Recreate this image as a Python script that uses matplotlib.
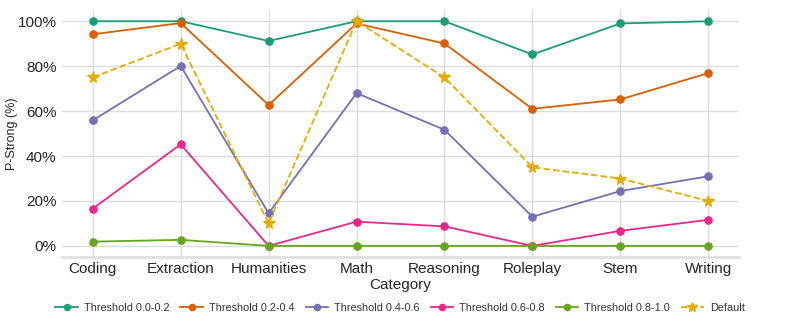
import matplotlib
matplotlib.use("Agg")
from matplotlib import pyplot as plt
from matplotlib.ticker import FuncFormatter

plt.rcParams['font.family'] = ['Liberation Sans', 'DejaVu Sans']

categories = ['Coding', 'Extraction', 'Humanities', 'Math', 'Reasoning', 'Roleplay', 'Stem', 'Writing']

t00_02 = [100, 100, 91.2, 100, 100, 85.2, 99.0, 100]
t02_04 = [94.2, 99.2, 62.7, 99.0, 90.1, 61.0, 65.2, 76.9]
t04_06 = [55.9, 80.1, 14.5, 68.0, 51.7, 13.0, 24.4, 31.0]
t06_08 = [16.6, 45.2, 0.0, 10.8, 8.7, 0.0, 6.7, 11.6]
t08_10 = [1.9, 2.7, 0.0, 0.0, 0.0, 0.0, 0.0, 0.0]
default = [75, 90, 10, 100, 75, 35, 30, 20]

series = [
    ('Threshold 0.0-0.2', t00_02, '#1b9e77'),
    ('Threshold 0.2-0.4', t02_04, '#d95f02'),
    ('Threshold 0.4-0.6', t04_06, '#7570b3'),
    ('Threshold 0.6-0.8', t06_08, '#e7298a'),
    ('Threshold 0.8-1.0', t08_10, '#66a61e'),
]

fig = plt.figure(figsize=(7.89, 3.29), dpi=100)
ax = fig.add_axes([62 / 789, 1 - 256.7 / 329, (739 - 62) / 789, (256.7 - 10) / 329])

x = list(range(len(categories)))
for name, vals, col in series:
    ax.plot(x, vals, color=col, lw=1.3, marker='o', ms=5.2, label=name, zorder=3)
ax.plot(x, default, color='#e6ab02', lw=1.3, ls='--', marker='*', ms=8.5, label='Default', zorder=4)

ax.set_xlim(-0.35, 7.35)
ax.set_ylim(-4.8, 105)
ax.set_yticks([0, 20, 40, 60, 80, 100])
ax.yaxis.set_major_formatter(FuncFormatter(lambda v, p: '{:.0f}%'.format(v)))
ax.set_xticks(x)
ax.set_xticklabels(categories)
ax.tick_params(axis='both', length=0, labelsize=11, colors='#262626', pad=4)
ax.grid(True, color='#dddddd', lw=1)
ax.set_axisbelow(True)
for s in ['top', 'right', 'left']:
    ax.spines[s].set_visible(False)
ax.spines['bottom'].set_color('#e0e0e0')
ax.spines['bottom'].set_linewidth(2)

ax.set_xlabel('Category', fontsize=11, color='#262626', labelpad=1)
ax.set_ylabel('P-Strong (%)', fontsize=9, color='#262626')
ax.yaxis.set_label_coords((18 - 62) / 677, 0.5)

fig.legend(loc='center', bbox_to_anchor=(400 / 789, 1 - 308 / 329), ncol=6, frameon=False,
           fontsize=7.8, handlelength=2.1, columnspacing=1.0, handletextpad=0.55,
           markerscale=0.85, labelcolor='#333333')

fig.savefig('out.png', dpi=100)
